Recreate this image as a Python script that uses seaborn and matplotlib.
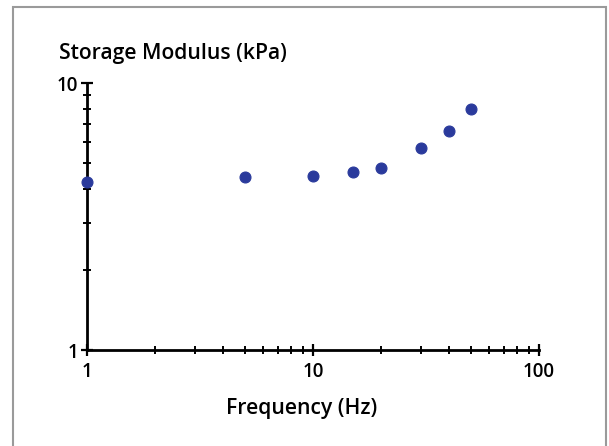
import matplotlib
matplotlib.use("Agg")
import matplotlib.pyplot as plt
import seaborn as sns
import pandas as pd
from matplotlib.ticker import LogLocator, NullFormatter
from matplotlib.patches import Rectangle

frequency_hz = [1, 5, 10, 15, 20, 30, 40, 50]
storage_modulus_kpa = [4.27, 4.43, 4.48, 4.65, 4.82, 5.69, 6.63, 7.99]
x_ticks = [1, 10, 100]
x_tick_labels = ["1", "10", "100"]
y_ticks = [1, 10]
y_tick_labels = ["1", "10"]

sns.set_theme(style="white")
plt.rcParams["font.family"] = ["Open Sans", "DejaVu Sans"]

df = pd.DataFrame({"Frequency": frequency_hz, "Modulus": storage_modulus_kpa})

W, H = 609, 446
fig = plt.figure(figsize=(W / 100, H / 100), dpi=100)
fig.patch.set_facecolor("white")
ax = fig.add_axes([87 / W, 1 - 350 / H, 452 / W, 267 / H])

sns.scatterplot(data=df, x="Frequency", y="Modulus", ax=ax, color="#2a3a9c",
                edgecolor="#2a3a9c", s=62, marker="o", linewidth=0.8,
                clip_on=False, zorder=5)

ax.set_xscale("log")
ax.set_yscale("log")
ax.set_xlim(1, 100)
ax.set_ylim(1, 10)

ax.set_xticks(x_ticks, labels=x_tick_labels)
ax.set_yticks(y_ticks, labels=y_tick_labels)
ax.xaxis.set_minor_locator(LogLocator(base=10, subs=range(2, 10)))
ax.yaxis.set_minor_locator(LogLocator(base=10, subs=range(2, 10)))
ax.xaxis.set_minor_formatter(NullFormatter())
ax.yaxis.set_minor_formatter(NullFormatter())

for side in ["top", "right"]:
    ax.spines[side].set_visible(False)
for side in ["left", "bottom"]:
    ax.spines[side].set_color("black")
    ax.spines[side].set_linewidth(2)

ax.tick_params(which="major", direction="inout", length=9, width=1.6,
               color="black", labelsize=13.5, labelcolor="black")
ax.tick_params(which="minor", direction="inout", length=6, width=1.4,
               color="black")
ax.tick_params(axis="x", which="major", pad=4)
ax.tick_params(axis="y", which="major", pad=2)
ax.tick_params(left=True, bottom=True, which="both")
for lbl in ax.get_xticklabels() + ax.get_yticklabels():
    lbl.set_fontweight("semibold")

ax.set_xlabel("")
ax.set_ylabel("")
ax.grid(False)

fig.text(59 / W, 1 - 59 / H, "Storage Modulus (kPa)", fontsize=15.2,
         fontweight="semibold", ha="left", va="baseline", color="black")
fig.text(302 / W, 1 - 414 / H, "Frequency (Hz)", fontsize=15.2,
         fontweight="semibold", ha="center", va="baseline", color="black")

fig.patches.append(Rectangle((13 / W, -0.1), (606 - 13) / W, 1.1 - 7 / H,
                             transform=fig.transFigure, fill=False,
                             edgecolor="#9a9a9a", linewidth=1.5))

fig.savefig("out.png", dpi=100)
